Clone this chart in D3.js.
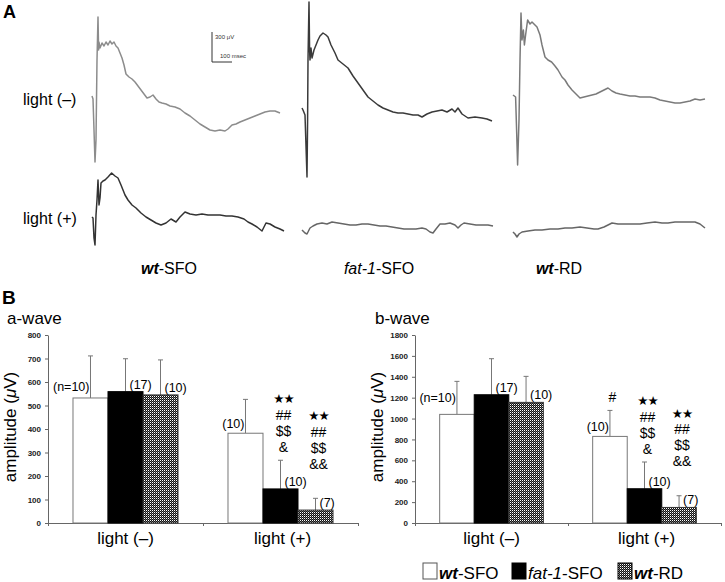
<!DOCTYPE html>
<html><head><meta charset="utf-8">
<script src="https://cdn.jsdelivr.net/npm/d3@7"></script>
<style>
body{margin:0;background:#fff;}
svg{display:block;font-family:"Liberation Sans",Arial,sans-serif;}
</style></head>
<body><svg id="c" width="725" height="582"></svg>
<script>
// ---------------- DATA ----------------
// Panel A: ERG traces, [time ms, amplitude µV] relative to each trace's start/baseline
const traceWtSfoDark = [[0,40],[5,10],[10,-300],[15,-620],[20,-400],[25,400],[30,830],[33,500],[35,580],[40,520],[50,570],[60,540],[70,580],[80,550],[90,590],[100,560],[110,580],[120,540],[130,520],[140,470],[150,420],[160,350],[170,260],[185,230],[200,210],[215,180],[230,140],[245,100],[260,60],[275,20],[290,30],[305,50],[320,10],[335,-20],[350,-30],[370,-40],[390,-60],[415,-70],[440,-90],[465,-130],[490,-160],[515,-200],[540,-240],[565,-270],[590,-300],[615,-310],[640,-300],[665,-310],[680,-290],[700,-250],[720,-240],[740,-220],[765,-200],[790,-180],[815,-160],[840,-140],[865,-120],[890,-110],[915,-110],[940,-130]];
const traceFatSfoDark = [[0,-80],[5,-100],[15,-150],[25,-770],[28,-200],[30,400],[35,980],[38,500],[40,400],[45,520],[50,420],[60,500],[70,550],[80,600],[90,640],[105,670],[120,650],[130,630],[145,550],[165,470],[180,400],[205,360],[230,320],[255,240],[280,170],[305,100],[330,30],[355,-10],[380,-50],[405,-80],[430,-100],[455,-120],[480,-130],[505,-130],[530,-140],[555,-150],[580,-150],[600,-170],[625,-140],[650,-120],[675,-110],[700,-100],[725,-120],[750,-90],[765,-120],[780,-80],[800,-140],[830,-180],[865,-170],[900,-180],[925,-190],[950,-210]];
const traceWtRdDark = [[5,50],[18,30],[23,-300],[28,-650],[35,-200],[40,400],[45,870],[50,600],[57,700],[62,550],[68,650],[78,800],[90,760],[100,780],[115,750],[125,730],[140,650],[150,550],[165,430],[180,400],[198,380],[215,340],[230,300],[250,230],[265,200],[280,150],[300,100],[320,60],[340,20],[360,30],[380,40],[400,50],[420,60],[440,80],[460,100],[480,120],[500,90],[520,70],[540,60],[565,50],[590,40],[615,40],[640,30],[665,30],[690,30],[715,20],[740,0],[765,-10],[790,-20],[815,-30],[840,-30],[865,-20],[890,-10],[915,10],[940,0],[965,10]];
const traceWtSfoLight = [[0,80],[5,70],[10,-130],[15,-200],[20,100],[25,250],[30,450],[35,200],[40,270],[45,420],[55,440],[65,450],[80,480],[98,520],[115,490],[130,470],[145,400],[165,300],[180,250],[200,200],[220,170],[245,120],[270,80],[295,50],[320,20],[345,0],[370,20],[395,60],[420,30],[440,80],[465,130],[490,110],[520,100],[550,110],[580,100],[610,100],[640,100],[670,90],[700,90],[730,80],[760,60],[780,30],[800,10],[825,-20],[850,-60],[870,20],[890,10],[915,-20],[940,-40],[960,-60]];
const traceFatSfoLight = [[0,-50],[15,-80],[25,-90],[40,-30],[55,-10],[75,10],[100,20],[125,10],[150,30],[180,20],[210,10],[240,0],[270,0],[300,10],[330,10],[360,0],[390,-10],[420,-10],[450,-20],[480,-30],[510,-40],[540,-40],[570,-40],[600,-30],[620,-40],[640,-70],[655,-80],[670,-40],[690,10],[715,10],[740,20],[765,0],[780,-30],[795,0],[810,20],[840,10],[870,0],[900,0],[930,0],[955,-10]];
const traceWtRdLight = [[5,-70],[15,-90],[25,-120],[35,-90],[50,-70],[80,-60],[115,-50],[150,-50],[190,-40],[230,-40],[265,-30],[300,-30],[340,-20],[375,-30],[410,-40],[430,-40],[460,-20],[480,0],[500,20],[530,10],[565,10],[600,10],[640,10],[675,20],[715,30],[750,20],[780,20],[815,30],[850,30],[880,30],[915,30],[940,10],[965,-30]];
const traceGrid = [[traceWtSfoDark, traceFatSfoDark, traceWtRdDark],[traceWtSfoLight, traceFatSfoLight, traceWtRdLight]];
const rowLabels = ["light (\u2013)", "light (+)"];
const scaleBarValues = {uV: 300, ms: 100};

// Panel B: bar chart
const groups = ["light (\u2013)", "light (+)"];
const series = ["wt-SFO", "fat-1-SFO", "wt-RD"];
const seriesLabelParts = [["wt","-SFO"],["fat-1","-SFO"],["wt","-RD"]];
const aWaveMean = [[532,559,545],[382,145,55]];
const aWaveSD   = [[179,140,149],[144,122,50]];
const bWaveMean = [[1040,1228,1155],[829,328,149]];
const bWaveSD   = [[316,345,249],[249,256,112]];
const aWaveN = [["(n=10)","(17)","(10)"],["(10)","(10)","(7)"]];
const bWaveN = [["(n=10)","(17)","(10)"],["(10)","(10)","(7)"]];
const aWaveSig = [[[],[],[]],[[],["\u2605\u2605","##","$$","&"],["\u2605\u2605","##","$$","&&"]]];
const bWaveSig = [[[],[],[]],[["#"],["\u2605\u2605","##","$$","&"],["\u2605\u2605","##","$$","&&"]]];
const aWaveTicks = [0,100,200,300,400,500,600,700,800];
const bWaveTicks = [0,200,400,600,800,1000,1200,1400,1600,1800];

// ---------------- DRAW ----------------
const svg = d3.select("#c");
const defs = svg.append("defs");
const pat = defs.append("pattern").attr("id","dots").attr("patternUnits","userSpaceOnUse")
  .attr("width",2).attr("height",2);
pat.append("rect").attr("width",2).attr("height",2).attr("fill","#111");
pat.append("rect").attr("width",1).attr("height",1).attr("fill","#fff");
pat.append("rect").attr("x",1).attr("y",1).attr("width",1).attr("height",1).attr("fill","#666");

const fills = ["#fff", "#000", "url(#dots)"];
const strokes = ["#777", "#000", "#333"];

// Panel A
svg.append("text").attr("x",3).attr("y",18).attr("font-size",18).attr("font-weight","bold").text("A");
const rowBase = [100, 225];
const traceColors = [["#8c8c8c","#3a3a3a","#7a7a7a"],["#333","#666","#666"]];
const colX = [92, 302, 512];
traceGrid.forEach((row, r) => {
  row.forEach((tr, c) => {
    const x = d3.scaleLinear().domain([0,1000]).range([colX[c], colX[c]+200]);
    const y = d3.scaleLinear().domain([-1000,1000]).range([rowBase[r]+100, rowBase[r]-100]);
    svg.append("path").datum(tr)
      .attr("d", d3.line().x(d=>x(d[0])).y(d=>y(d[1])))
      .attr("fill","none").attr("stroke",traceColors[r][c]).attr("stroke-width",1.5)
      .attr("stroke-linejoin","round");
  });
  svg.append("text").attr("x",23).attr("y",rowBase[r]+(r===0?5:-1)).attr("font-size",16).text(rowLabels[r]);
});
// scale bar
{
  const x = d3.scaleLinear().domain([0,1000]).range([colX[0], colX[0]+200]);
  const y = d3.scaleLinear().domain([-1000,1000]).range([200, 0]);
  const bx = 212, by = 62;
  const h = y(0)-y(scaleBarValues.uV), w = x(scaleBarValues.ms)-x(0);
  svg.append("path").attr("d",`M${bx},${by-h}V${by}H${bx+w}`).attr("fill","none").attr("stroke","#333").attr("stroke-width",1);
  svg.append("text").attr("x",bx+3).attr("y",by-h+7).attr("font-size",6).attr("fill","#333").text(scaleBarValues.uV+" \u03BCV");
  svg.append("text").attr("x",bx+8).attr("y",by-4).attr("font-size",6).attr("fill","#333").text(scaleBarValues.ms+" msec");
}
// column labels
const colCenters = [169, 379, 559];
seriesLabelParts.forEach((p,i)=>{
  const t = svg.append("text").attr("x",colCenters[i]).attr("y",274).attr("font-size",16).attr("text-anchor","middle");
  t.append("tspan").attr("font-style","italic").attr("font-weight", i===1?"normal":"bold").text(p[0]);
  t.append("tspan").text(p[1]);
});

// Panel B
svg.append("text").attr("x",2).attr("y",304).attr("font-size",19).attr("font-weight","bold").text("B");

function barChart(cfg){
  const y = d3.scaleLinear().domain([0, d3.max(cfg.ticks)]).range([523, 335]);
  const x0 = d3.scaleBand().domain(groups).range([cfg.x0, cfg.x1]).paddingInner(0).paddingOuter(0);
  const x1 = d3.scaleBand().domain(series).range([0, x0.bandwidth()]).paddingInner(0).paddingOuter(0.714);
  const g = svg.append("g");
  // y axis
  const ya = g.append("g").attr("transform",`translate(${cfg.x0},0)`)
    .call(d3.axisLeft(y).tickValues(cfg.ticks).tickFormat(d3.format("d")).tickSize(3).tickSizeOuter(0).tickPadding(4));
  ya.selectAll("text").attr("font-size",8).attr("font-weight","bold").attr("fill","#222")
    .attr("font-family","'Liberation Sans',Arial,sans-serif");
  ya.selectAll("line,path").attr("stroke","#666");
  // x axis
  const xl = d3.scaleLinear().domain([0, groups.length]).range([cfg.x0, cfg.x1]);
  const xa = g.append("g").attr("transform",`translate(0,${y(0)})`)
    .call(d3.axisBottom(xl).tickValues(d3.range(groups.length+1)).tickFormat("").tickSize(3).tickSizeOuter(0));
  xa.selectAll("line,path").attr("stroke","#666");
  // category labels
  groups.forEach(gr=>{
    g.append("text").attr("x",x0(gr)+x0.bandwidth()/2+(gr===groups[1]?2:0)).attr("y",544)
      .attr("text-anchor","middle").attr("font-size",17).text(gr);
  });
  // bars
  groups.forEach((gr,gi)=>{
    series.forEach((s,si)=>{
      const bx = x0(gr)+x1(s), bw = x1.bandwidth(), cx = bx+bw/2;
      const m = cfg.mean[gi][si], e = cfg.sd[gi][si];
      // error bar
      g.append("line").attr("x1",cx).attr("x2",cx).attr("y1",y(m)).attr("y2",y(m+e)).attr("stroke","#777").attr("stroke-width",1);
      g.append("line").attr("x1",cx-2.5).attr("x2",cx+2.5).attr("y1",y(m+e)).attr("y2",y(m+e)).attr("stroke","#777").attr("stroke-width",1);
      g.append("rect").attr("x",bx).attr("y",y(m)).attr("width",bw).attr("height",y(0)-y(m))
        .attr("fill",fills[si]).attr("stroke",strokes[si]).attr("stroke-width",1);
      // n labels
      const nl = cfg.n[gi][si];
      if (si===0){
        g.append("text").attr("x",cx-1).attr("y",y(m)-cfg.whiteDy[gi]).attr("text-anchor","end").attr("font-size",12.5).text(nl);
      } else {
        g.append("text").attr("x",cx+4).attr("y",y(m)-3).attr("font-size",12.5).text(nl);
      }
      // significance stacks
      const sig = cfg.sig[gi][si];
      if (sig.length){
        const bottom = y(m+e) - (si===2 ? 35 : 14);
        sig.forEach((sym,k)=>{
          const cy = bottom - (sig.length-1-k)*16;
          const isStar = sym.indexOf("\u2605")>=0;
          g.append("text").attr("x",cx+(si===0?2.5:3)).attr("y",cy+(isStar?5:5.5))
            .attr("text-anchor","middle").attr("font-size",isStar?12.5:14)
            .attr("font-family", isStar?"'DejaVu Sans',sans-serif":"'Liberation Sans',Arial,sans-serif")
            .attr("letter-spacing", isStar?"-1":"0")
            .text(sym);
        });
      }
    });
  });
  // titles
  g.append("text").attr("x",cfg.titleX).attr("y",324).attr("font-size",17).text(cfg.title);
  const yl = g.append("text").attr("transform",`translate(${cfg.ylabX},427) rotate(-90)`)
    .attr("text-anchor","middle").attr("font-size",17);
  yl.append("tspan").text("amplitude (");
  yl.append("tspan").attr("font-style","italic").text("\u03BC");
  yl.append("tspan").text("V)");
}
barChart({x0:48, x1:358, ticks:aWaveTicks, mean:aWaveMean, sd:aWaveSD, n:aWaveN, sig:aWaveSig,
  whiteDy:[7,5], title:"a-wave", titleX:7, ylabX:16});
barChart({x0:415, x1:721, ticks:bWaveTicks, mean:bWaveMean, sd:bWaveSD, n:bWaveN, sig:bWaveSig,
  whiteDy:[12,5], title:"b-wave", titleX:375, ylabX:383});

// legend
const legX = [423, 512, 618];
series.forEach((s,i)=>{
  svg.append("rect").attr("x",legX[i]).attr("y",563).attr("width",14).attr("height",16)
    .attr("fill",fills[i]).attr("stroke",i===0?"#555":"#000").attr("stroke-width",1);
  const t = svg.append("text").attr("x",legX[i]+16).attr("y",579).attr("font-size",17);
  t.append("tspan").attr("font-style","italic").attr("font-weight", i===1?"normal":"bold").text(seriesLabelParts[i][0]);
  t.append("tspan").text(seriesLabelParts[i][1]);
});
</script></body></html>
